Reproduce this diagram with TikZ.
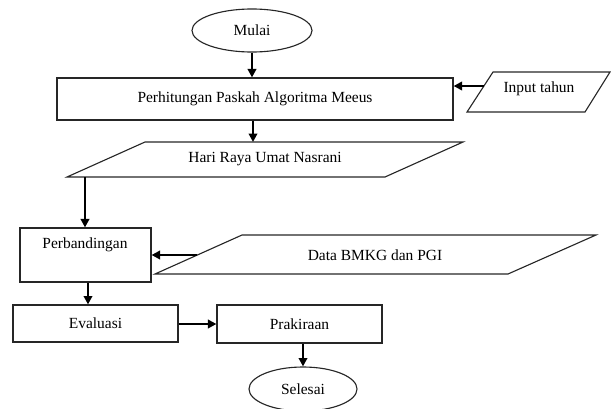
\documentclass[tikz,border=0pt]{standalone}
\usepackage{fontspec}
\setmainfont{Liberation Serif}
\usepackage{tikz}
\usetikzlibrary{arrows.meta}
\usetikzlibrary{shapes.geometric}

\tikzset{
  box/.style={draw=black!85, line width=0.8pt, inner sep=0pt},
  arr/.style={line width=1.6pt, -{Triangle[length=6pt,width=6pt]}},
  every node/.style={font=\fontsize{11}{13}\selectfont}
}

\begin{document}
\begin{tikzpicture}[x=0.025cm, y=-0.025cm]
    \useasboundingbox (0,0) rectangle (611,408);
    \node[box, ellipse, minimum width=3cm, minimum height=1.075cm] (A) at (252,30.5) {Mulai};
    \node[box, minimum width=9.9cm, minimum height=1.05cm] (B) at (255,99) {Perhitungan Paskah Algoritma Meeus};
    % input tahun
    \draw[box] (493,72) -- (610,72) -- (585,112) -- (467,112) -- cycle;
    \node (C) at (539,89) {Input tahun};
    \coordinate (C1) at (484,86);
    % hari raya
    \draw[box] (145,142) -- (463,142) -- (385,177) -- (67,177) -- cycle;
    \node (D) at (265,159) {Hari Raya Umat Nasrani};
    \coordinate (D1) at (253,142);
    \coordinate (D2) at (85,177);
    \node[box, minimum width=3.275cm, minimum height=1.35cm] (E) at (85.5,255) {};
    \node (E1) at (85,245) {Perbandingan};
    % data bmkg
    \draw[box] (242,235) -- (596,235) -- (508,274) -- (155,274) -- cycle;
    \node (F) at (375,255) {Data BMKG dan PGI};
    \coordinate (F1) at (197,255);
    \node[box, minimum width=4.125cm, minimum height=0.925cm] (G) at (95.5,323.5) {Evaluasi};
    \node[box, minimum width=4.125cm, minimum height=0.95cm] (H) at (299.5,324) {Prakiraan};
    \node[box, ellipse, minimum width=2.7cm, minimum height=1.1cm] (I) at (303,389) {Selesai};
    \path [arr] (A) edge (A |- B.north);
    \path [arr] (C1) edge (C1 -| B.east);
    \path [arr] (B.south -| D1) edge (D1);
    \path [arr] (D2) edge (D2 |- E.north);
    \path [arr] (F1) edge (F1 -| E.east);
    \path [arr] (E.south -| 88,0) edge (G.north -| 88,0);
    \path [arr] (G.east |- 0,324) edge (H.west |- 0,324);
    \path [arr] (H.south -| I) edge (I);
  \end{tikzpicture}
\end{document}
